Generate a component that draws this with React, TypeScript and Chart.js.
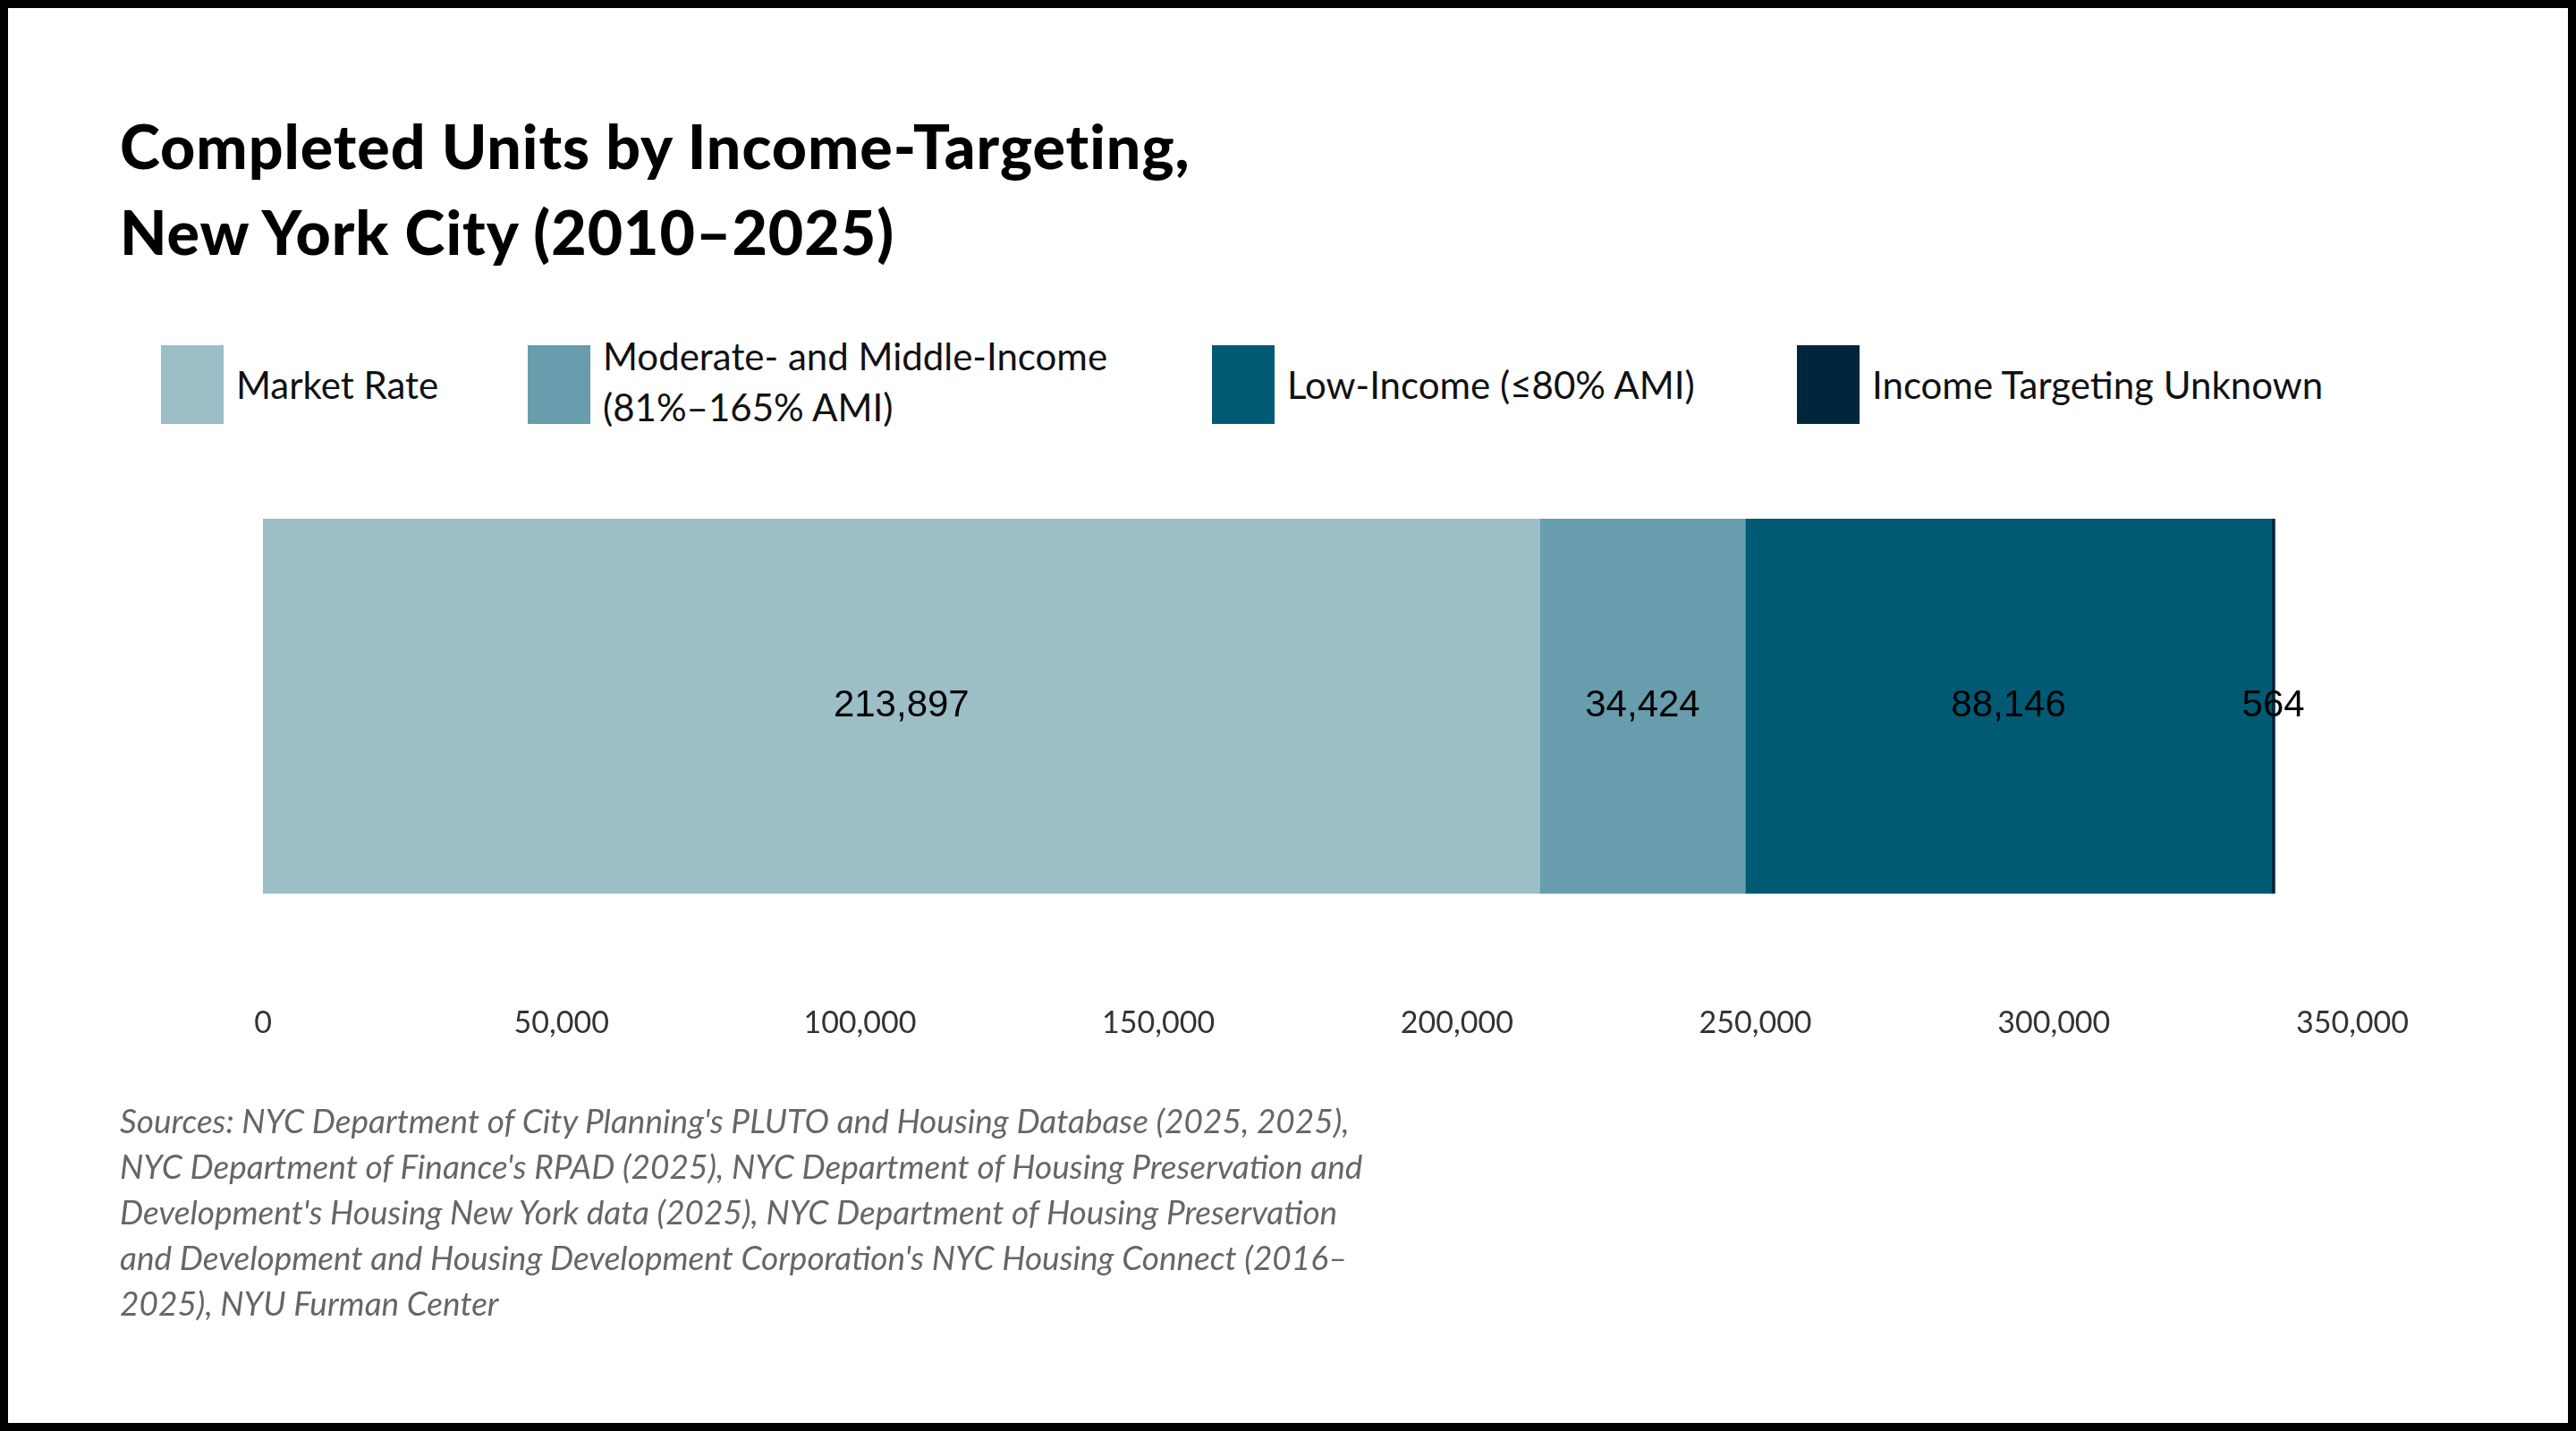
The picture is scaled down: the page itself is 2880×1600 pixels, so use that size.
import React, { useEffect, useRef } from "react";
import { Chart, registerables } from "chart.js";
Chart.register(...registerables);

const categories = ["Completed Units"];
const seriesNames = ["Market Rate", "Moderate- and Middle-Income (81%–165% AMI)", "Low-Income (≤80% AMI)", "Income Targeting Unknown"];
const marketRate = [213897];
const moderate = [34424];
const lowIncome = [88146];
const unknown = [564];
const colors = ["#9bbec7", "#679dac", "#015a74", "#00263e"];
const tickValues = [0, 50000, 100000, 150000, 200000, 250000, 300000, 350000];

const labelPlugin = {
  id: "segLabels",
  afterDatasetsDraw(chart: any) {
    const ctx = chart.ctx;
    ctx.save();
    ctx.font = "42px 'Liberation Sans', Arial, sans-serif";
    ctx.fillStyle = "#000";
    ctx.textAlign = "center";
    ctx.textBaseline = "middle";
    chart.data.datasets.forEach((ds: any, i: number) => {
      chart.getDatasetMeta(i).data.forEach((el: any, j: number) => {
        const x = (el.x + el.base) / 2;
        ctx.fillText(ds.data[j].toLocaleString("en-US"), x, el.y);
      });
    });
    ctx.restore();
  },
};

export default function App() {
  const ref = useRef<HTMLCanvasElement>(null);
  useEffect(() => {
    document.body.style.margin = "0";
    const data = [marketRate, moderate, lowIncome, unknown];
    const chart = new Chart(ref.current!, {
      type: "bar",
      data: {
        labels: categories,
        datasets: data.map((d, i) => ({
          label: seriesNames[i],
          data: d,
          backgroundColor: colors[i],
          barThickness: 439,
          borderWidth: 0,
        })),
      },
      options: {
        indexAxis: "y",
        animation: false,
        responsive: false,
        layout: { padding: { left: 294, right: 250, top: 0, bottom: 28 } },
        plugins: { legend: { display: false }, tooltip: { enabled: false } },
        scales: {
          x: {
            stacked: true,
            min: 0,
            max: 350000,
            grid: { display: false },
            border: { display: false },
            afterBuildTicks: (ax: any) => { ax.ticks = tickValues.map((v) => ({ value: v })); },
            ticks: {
              padding: 116,
              color: "#333",
              font: { family: "Lato, sans-serif", size: 34 },
              callback: (v: any) => Number(v).toLocaleString("en-US"),
            },
          },
          y: { stacked: true, display: false },
        },
      },
      plugins: [labelPlugin],
    });
    return () => chart.destroy();
  }, []);

  const legendX = [180, 590, 1355, 2009];
  return (
    <div style={{ position: "relative", width: 2880, height: 1600, background: "#fff", boxSizing: "border-box", border: "9px solid #000", fontFamily: "Lato, sans-serif", overflow: "hidden" }}>
      <div style={{ position: "absolute", left: 125, top: 106, fontSize: 68, fontWeight: 900, lineHeight: "96px", color: "#000", letterSpacing: 1 }}>
        Completed Units by Income-Targeting,<br />New York City (2010–2025)
      </div>
      {seriesNames.map((n, i) => (
        <div key={i} style={{ position: "absolute", left: legendX[i] - 9, top: 377, display: "flex", alignItems: i === 1 ? "flex-start" : "center" }}>
          <div style={{ width: 70, height: 88, background: colors[i], flex: "none" }} />
          <div style={{ marginLeft: 14, marginTop: i === 1 ? -16 : 0, fontSize: 42, color: "#111", lineHeight: "57px", whiteSpace: "nowrap" }}>
            {i === 1 ? (<>Moderate- and Middle-Income<br />(81%–165% AMI)</>) : n}
          </div>
        </div>
      ))}
      <canvas ref={ref} width={2880} height={728} style={{ position: "absolute", left: -9, top: 571 }} />
      <div style={{ position: "absolute", left: 125, top: 1218, width: 1400, fontSize: 37, fontStyle: "italic", lineHeight: "51px", color: "#666" }}>
        Sources: NYC Department of City Planning's PLUTO and Housing Database (2025, 2025), NYC Department of Finance's RPAD (2025), NYC Department of Housing Preservation and Development's Housing New York data (2025), NYC Department of Housing Preservation and Development and Housing Development Corporation's NYC Housing Connect (2016–2025), NYU Furman Center
      </div>
    </div>
  );
}
